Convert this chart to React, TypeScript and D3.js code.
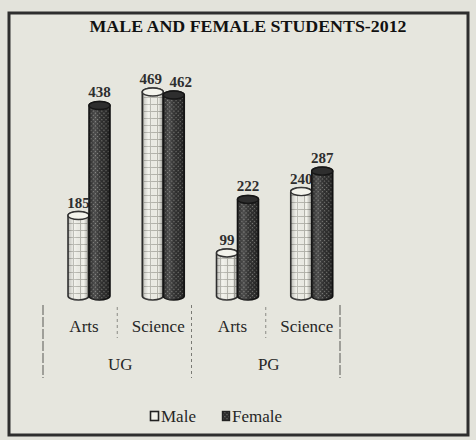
import React from 'react'
import * as d3 from 'd3'

// chart values
const categories = ['Arts', 'Science', 'Arts', 'Science']
const levels = ['UG', 'PG']
const maleValues = [185, 469, 99, 240]
const femaleValues = [438, 462, 222, 287]
const seriesNames = ['Male', 'Female']

const W = 476
const H = 440
const FONT = "'Liberation Serif', 'DejaVu Serif', serif"

function cylinderPath (x: number, w: number, top: number, bottom: number, ry: number) {
  const rx = w / 2
  return 'M' + x + ',' + top +
    'L' + x + ',' + bottom +
    'A' + rx + ',' + ry + ' 0 0 0 ' + (x + w) + ',' + bottom +
    'L' + (x + w) + ',' + top +
    'A' + rx + ',' + ry + ' 0 0 0 ' + x + ',' + top + 'Z'
}

export default function App () {
  const x = d3.scaleBand<number>()
    .domain(d3.range(categories.length))
    .range([43, 340])
    .paddingInner(0)
  const sub = d3.scaleBand<string>()
    .domain(seriesNames)
    .range([0, 42])
  const y = d3.scaleLinear().domain([0, 500]).range([296, 78.5])
  const ry = 4

  const series = [
    { name: 'Male', values: maleValues, fill: 'url(#malePat)', cap: '#f3f3ec', stroke: '#333', nudge: -2 },
    { name: 'Female', values: femaleValues, fill: 'url(#femalePat)', cap: '#2e2e2e', stroke: '#161616', nudge: 7 }
  ]

  const bw = sub.bandwidth()
  const groupStarts = [0, 2]

  return (
    <div style={{ position: 'fixed', left: 0, top: 0, width: W, height: H, overflow: 'hidden' }}>
      <svg width={W} height={H} style={{ display: 'block' }}>
        <defs>
          <pattern id='malePat' width='7' height='7' patternUnits='userSpaceOnUse'>
            <rect width='7' height='7' fill='#f1f1ea' />
            <path d='M0,6.5H7M3.5,0V6.5' stroke='#a8a8a0' strokeWidth='0.8' />
          </pattern>
          <pattern id='femalePat' width='3' height='3' patternUnits='userSpaceOnUse' patternTransform='rotate(45)'>
            <rect width='3' height='3' fill='#2c2c2c' />
            <rect width='1.2' height='1.2' fill='#7e7e7a' />
          </pattern>
          <linearGradient id='shade' x1='0' x2='1' y1='0' y2='0'>
            <stop offset='0' stopColor='#000' stopOpacity='0.25' />
            <stop offset='0.3' stopColor='#fff' stopOpacity='0.15' />
            <stop offset='0.75' stopColor='#000' stopOpacity='0' />
            <stop offset='1' stopColor='#000' stopOpacity='0.35' />
          </linearGradient>
        </defs>

        <rect width={W} height={H} fill='#e3e3db' />
        <rect x={9} y={13} width={459} height={422} fill='#e6e6de' stroke='#2e2e2e' strokeWidth={3} />

        <text x={248} y={32} textAnchor='middle' fontFamily={FONT} fontWeight='bold' fontSize={17}
          textLength={317} lengthAdjust='spacingAndGlyphs' fill='#111'>
          MALE AND FEMALE STUDENTS-2012
        </text>

        {series.map(s => (
          <g key={s.name}>
            {s.values.map((v, i) => {
              const bx = (x(i) as number) + 25 + (sub(s.name) as number)
              const top = y(v)
              const bottom = y(0)
              // push the two labels apart when the bars are nearly the same height
              const close = Math.abs(maleValues[i] - femaleValues[i]) < 30
              return (
                <g key={i}>
                  <path d={cylinderPath(bx, bw, top, bottom, ry)} fill={s.fill} stroke={s.stroke} strokeWidth={1.6} />
                  <path d={cylinderPath(bx, bw, top, bottom, ry)} fill='url(#shade)' />
                  <ellipse cx={bx + bw / 2} cy={top} rx={bw / 2} ry={ry} fill={s.cap} stroke={s.stroke} strokeWidth={1.4} />
                  <text x={bx + bw / 2 + (close ? s.nudge : 0)} y={top - ry - 4} textAnchor='middle' fontFamily={FONT}
                    fontWeight='bold' fontSize={15} fill='#2e2e2e'>{v}</text>
                </g>
              )
            })}
          </g>
        ))}

        {/* category dividers inside each level */}
        {[1, 3].map(i => (
          <line key={'c' + i} x1={x(i)} x2={x(i)} y1={307} y2={338} stroke='#8a8a84' strokeDasharray='3,3' />
        ))}
        {/* level dividers */}
        {[0, 2, 4].map(i => {
          const lx = i < categories.length ? (x(i) as number) : x.range()[1]
          return (
            <line key={'g' + i} x1={lx} x2={lx} y1={305} y2={378} stroke='#7a7a74'
              strokeWidth={i === 2 ? 1 : 1.3} strokeDasharray={i === 2 ? '3,3' : '10,2'} />
          )
        })}

        {categories.map((c, i) => (
          <text key={'t' + i} x={(x(i) as number) + 41} y={332} textAnchor='middle' fontFamily={FONT}
            fontSize={17} fill='#262626'>{c}</text>
        ))}
        {levels.map((l, k) => {
          const a = x(groupStarts[k]) as number
          const b = a + x.bandwidth() * 2
          return (
            <text key={l} x={(a + b) / 2 + 3} y={370} textAnchor='middle' fontFamily={FONT}
              fontSize={17} fill='#262626'>{l}</text>
          )
        })}

        <g fontFamily={FONT} fontSize={17} fill='#262626'>
          <rect x={150.5} y={411.5} width={8} height={9} fill='#f1f1ea' stroke='#222' strokeWidth={1.6} />
          <text x={161} y={422}>{seriesNames[0]}</text>
          <rect x={222.5} y={411.5} width={7} height={9} fill='url(#femalePat)' stroke='#222' strokeWidth={1.4} />
          <text x={232} y={422}>{seriesNames[1]}</text>
        </g>
      </svg>
    </div>
  )
}
